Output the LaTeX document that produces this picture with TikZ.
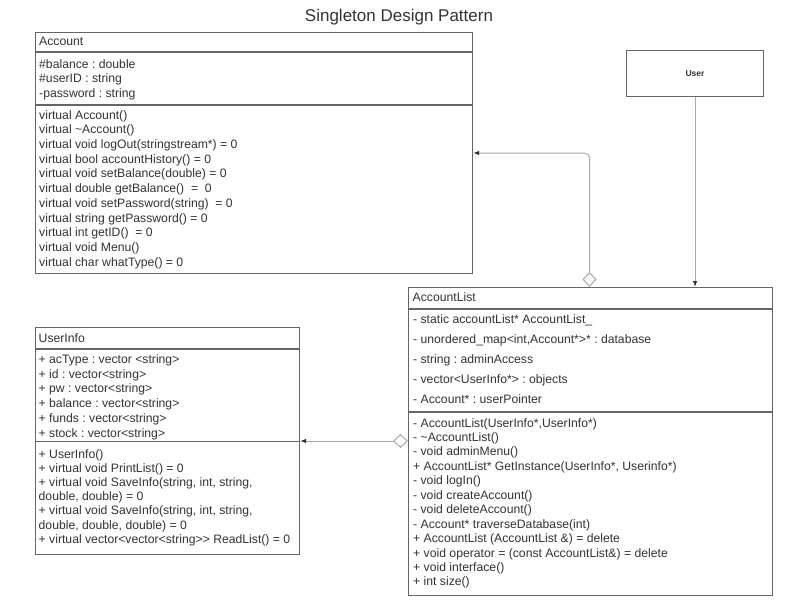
\documentclass[tikz,border=0pt]{standalone}
\usepackage{fontspec}
\setmainfont{Liberation Sans}
\usetikzlibrary{arrows.meta}
\definecolor{txtc}{HTML}{333333}
\definecolor{bordc}{HTML}{666666}
\definecolor{connc}{HTML}{A8A8A8}
\definecolor{tipc}{HTML}{333333}
\frenchspacing
\begin{document}
\begin{tikzpicture}[x=1pt,y=-1pt,
  box/.style={draw=bordc, line width=1.1pt, fill=white, inner sep=0pt, anchor=north west},
  divline/.style={draw=bordc, line width=1.1pt},
  ln/.style={anchor=base west, inner sep=0pt, text=txtc, font=\fontsize{12.2}{14}\selectfont},
  connline/.style={draw=connc, line width=1pt},
  endtip/.style={-{Latex[length=6pt,width=4.5pt,color=tipc]}},
  diamtip/.style={{Diamond[open,length=15pt,width=14pt,color=connc]}-{Latex[length=6pt,width=4.5pt,color=tipc]}}
]
\useasboundingbox (0,0) rectangle (796,602);

% title
\node[anchor=base, inner sep=0pt, text=txtc, font=\fontsize{17}{20}\selectfont] (title) at (399,21.5) {Singleton Design Pattern};

% boxes
\node[box, minimum width=437pt, minimum height=241pt] (acc) at (35,32) {};
\node[box, minimum width=364pt, minimum height=308pt] (accl) at (408,287) {};
\node[box, minimum width=264pt, minimum height=226.5pt] (ui) at (35,327) {};
\node[box, minimum width=137pt, minimum height=46pt, text=txtc, font=\bfseries\fontsize{8.5}{10}\selectfont] (user) at (626,50) {User};

% dividers
\coordinate (accd1) at (0,52);
\coordinate (accd2) at (0,105);
\coordinate (acld1) at (0,309);
\coordinate (acld2) at (0,412);
\coordinate (uid1) at (0,349);
\coordinate (uid2) at (0,441.5);
\draw[divline] (acc.west |- accd1) -- (acc.east |- accd1);
\draw[divline] (acc.west |- accd2) -- (acc.east |- accd2);
\draw[divline] (accl.west |- acld1) -- (accl.east |- acld1);
\draw[divline] (accl.west |- acld2) -- (accl.east |- acld2);
\draw[divline] (ui.west |- uid1) -- (ui.east |- uid1);
\draw[divline] (ui.west |- uid2) -- (ui.east |- uid2);

% Account texts
\node[ln] (acch) at (39,45.5) {Account};
\foreach \mytext [count=\i from 0] in {{\#balance : double}, {\#userID : string}, {-password : string}}
  \node[ln] (acca\i) at (39,{68.3+14.5*\i}) {\mytext};
\foreach \mytext [count=\i from 0] in {
  {virtual Account()},
  {virtual \textasciitilde Account()},
  {virtual void logOut(stringstream*) = 0},
  {virtual bool accountHistory() = 0},
  {virtual void setBalance(double) = 0},
  {virtual double getBalance() \ = \ 0},
  {virtual void setPassword(string) \ = 0},
  {virtual string getPassword() = 0},
  {virtual int getID() \ = 0},
  {virtual void Menu()},
  {virtual char whatType() = 0}}
  \node[ln] (accm\i) at (39,{119+14.73*\i}) {\mytext};

% AccountList texts
\node[ln] (aclh) at (412.5,301.3) {AccountList};
\foreach \mytext [count=\i from 0] in {
  {- static accountList* AccountList\_},
  {- unordered\_map<int,Account*>* : database},
  {- string : adminAccess},
  {- vector<UserInfo*> : objects},
  {- Account* : userPointer}}
  \node[ln] (acla\i) at (413,{323.5+19.9*\i}) {\mytext};
\foreach \mytext [count=\i from 0] in {
  {- AccountList(UserInfo*,UserInfo*)},
  {- \textasciitilde AccountList()},
  {- void adminMenu()},
  {+ AccountList* GetInstance(UserInfo*, Userinfo*)},
  {- void logIn()},
  {- void createAccount()},
  {- void deleteAccount()},
  {- Account* traverseDatabase(int)},
  {+ AccountList (AccountList \&) = delete},
  {+ void operator = (const AccountList\&) = delete},
  {+ void interface()},
  {+ int size()}}
  \node[ln] (aclm\i) at (413,{427+14.45*\i}) {\mytext};

% UserInfo texts
\node[ln] (uih) at (38.5,342) {UserInfo};
\foreach \mytext [count=\i from 0] in {
  {+ acType : vector <string>},
  {+ id : vector<string>},
  {+ pw : vector<string>},
  {+ balance : vector<string>},
  {+ funds : vector<string>},
  {+ stock : vector<string>}}
  \node[ln] (uia\i) at (38.5,{363.5+14.7*\i}) {\mytext};
\foreach \mytext [count=\i from 0] in {
  {+ UserInfo()},
  {+ virtual void PrintList() = 0},
  {+ virtual void SaveInfo(string, int, string,},
  {double, double) = 0},
  {+ virtual void SaveInfo(string, int, string,},
  {double, double, double) = 0},
  {+ virtual vector<vector<string>{}> ReadList() = 0}}
  \node[ln] (uim\i) at (38.5,{458+14.2*\i}) {\mytext};

% connectors
\coordinate (bend1) at (589.5,153);
\coordinate (lvl2) at (0,441);
\draw[connline, diamtip, rounded corners=5pt] (accl.north -| bend1) -- (bend1) -- (bend1 -| acc.east);
\draw[connline, endtip] (user.south) -- (user.south |- accl.north);
\draw[connline, diamtip] (accl.west |- lvl2) -- (ui.east |- lvl2);
\end{tikzpicture}
\end{document}
